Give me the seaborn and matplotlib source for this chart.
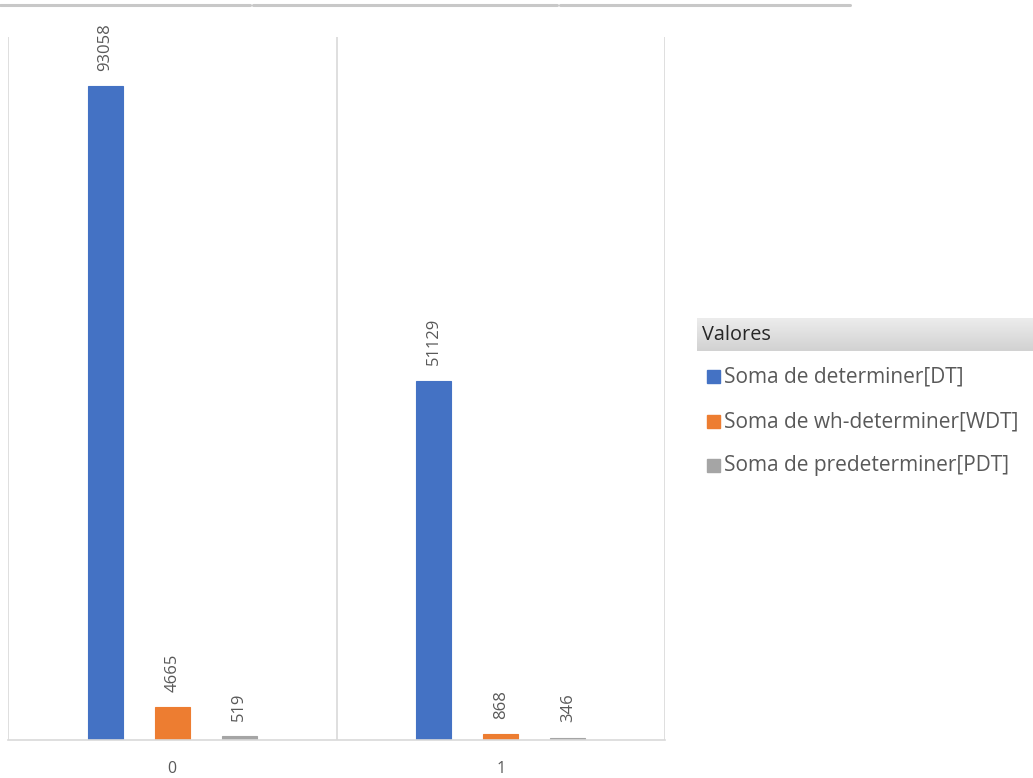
import matplotlib
matplotlib.use("Agg")
import matplotlib.pyplot as plt
import seaborn as sns
import pandas as pd
import numpy as np
from matplotlib.patches import Rectangle
from matplotlib.lines import Line2D

categories = ["0", "1"]
series_names = ["Soma de determiner[DT]", "Soma de wh-determiner[WDT]", "Soma de predeterminer[PDT]"]
dt_values = [93058, 51129]
wdt_values = [4665, 868]
pdt_values = [519, 346]
colors = ["#4472C4", "#ED7D31", "#A5A5A5"]
legend_title = "Valores"

rows = []
for name, vals in zip(series_names, [dt_values, wdt_values, pdt_values]):
    for c, v in zip(categories, vals):
        rows.append({"cat": c, "serie": name, "valor": v})
df = pd.DataFrame(rows)

sns.set_theme(style="white")
plt.rcParams['font.family'] = ['Open Sans', 'DejaVu Sans']

fig = plt.figure(figsize=(10.33, 7.78), dpi=100)
ax = fig.add_axes([8/1033, 1 - 740/778, (665-8)/1033, (740-37)/778])

sns.barplot(data=df, x="cat", y="valor", hue="serie", order=categories,
            hue_order=series_names, palette=colors, width=0.612, gap=0.475,
            ax=ax, legend=False, saturation=1, linewidth=0.8)
for p in ax.patches:
    p.set_edgecolor(p.get_facecolor())

ax.set_xlim(-0.5, 1.5)
ax.set_ylim(0, 100000)
ax.set_yticks([])
ax.set_xlabel("")
ax.set_ylabel("")
for s in ["top", "right", "left"]:
    ax.spines[s].set_visible(False)
ax.spines["bottom"].set_color("#d9d9d9")
ax.spines["bottom"].set_linewidth(1.2)
for xv in [-0.5, 0.5, 1.5]:
    ax.axvline(xv, color="#d9d9d9", lw=1.2, zorder=0)
ax.tick_params(axis="x", length=0, pad=15, labelsize=11.5, colors="#595959")

for cont in ax.containers:
    ax.bar_label(cont, labels=[f"{int(v)}" for v in cont.datavalues], rotation=90,
                 padding=11, fontsize=12, color="#595959")

# top decorative lines
for x0, x1 in [(0, 250), (253, 557), (560, 850)]:
    fig.add_artist(Line2D([x0/1033, x1/1033], [1 - 5/778, 1 - 5/778], color="#c8c8c8", lw=2.2))

# legend header with gradient
hax = fig.add_axes([697/1033, 1 - 351/778, (1033-697)/1033, 33/778])
grad = np.linspace(0, 1, 50).reshape(-1, 1)
hax.imshow(grad, aspect="auto", cmap=matplotlib.colors.LinearSegmentedColormap.from_list("g", ["#ececec", "#d2d2d2"]),
           extent=[0, 1, 0, 1], origin="upper")
hax.set_axis_off()
fig.text(702/1033, 1 - 335/778, legend_title, fontsize=14.3, color="#262626", va="center", ha="left")

ys = [377, 422, 466]
for name, col, yy in zip(series_names, colors, ys):
    fig.add_artist(Rectangle((707/1033, 1 - (yy+6)/778), 13/1033, 13/778, color=col, transform=fig.transFigure))
    fig.text(724/1033, 1 - yy/778, name, fontsize=15, color="#595959", va="center", ha="left")

fig.savefig("out.png", dpi=100)
